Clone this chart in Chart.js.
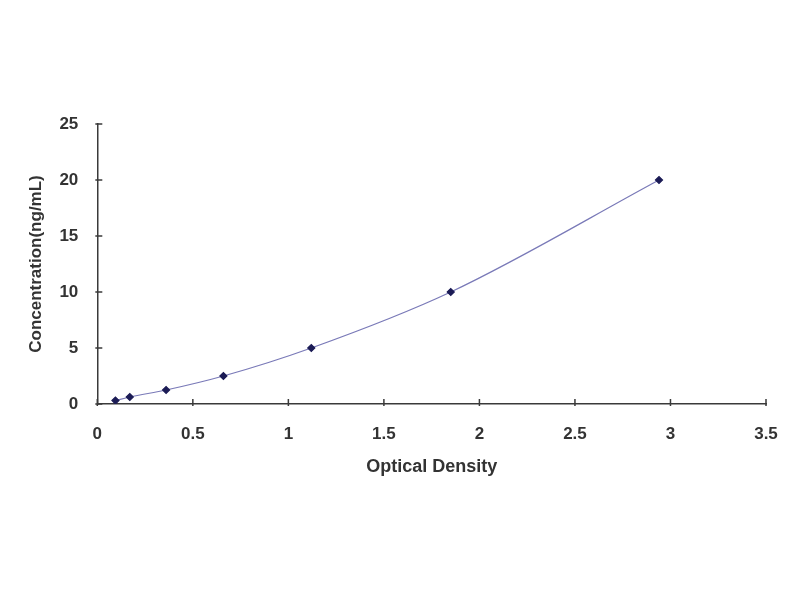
<!DOCTYPE html>
<html>
<head>
<meta charset="utf-8">
<script src="https://cdn.jsdelivr.net/npm/chart.js@4/dist/chart.umd.min.js"></script>
<style>
  html, body { margin: 0; padding: 0; background: #fff; }
  #wrap { width: 800px; height: 600px; }
</style>
</head>
<body>
<div id="wrap"><canvas id="curve" width="800" height="600"></canvas></div>
<script>
// standard curve: optical density vs concentration
const opticalDensity = [0.095, 0.17, 0.36, 0.66, 1.12, 1.85, 2.94];
const concentration = [0.312, 0.625, 1.25, 2.5, 5, 10, 20];
const xTicks = [0, 0.5, 1, 1.5, 2, 2.5, 3, 3.5];
const yTicks = [0, 5, 10, 15, 20, 25];

const axisColor = '#3a3a3a';
const textColor = '#333';
const font = { family: '"Liberation Sans", Arial, sans-serif', weight: 'bold', size: 17 };

// small tick marks drawn inward from each axis line
const innerTicks = {
  id: 'innerTicks',
  afterDraw(chart) {
    const { ctx, scales: { x, y } } = chart;
    ctx.save();
    ctx.strokeStyle = axisColor;
    ctx.lineWidth = 1.5;
    ctx.beginPath();
    xTicks.forEach(v => {
      const px = x.getPixelForValue(v);
      ctx.moveTo(px, y.bottom + 2);
      ctx.lineTo(px, y.bottom - 5);
    });
    yTicks.forEach(v => {
      const py = y.getPixelForValue(v);
      ctx.moveTo(x.left - 2, py);
      ctx.lineTo(x.left + 5, py);
    });
    ctx.stroke();
    ctx.restore();
  },
};

new Chart(document.getElementById('curve'), {
  type: 'scatter',
  data: {
    datasets: [{
      data: opticalDensity.map((od, i) => ({ x: od, y: concentration[i] })),
      showLine: true,
      borderColor: '#7a7ab8',
      borderWidth: 1.2,
      tension: 0.4,
      cubicInterpolationMode: 'monotone',
      pointStyle: 'rectRot',
      pointRadius: 3.5,
      pointBackgroundColor: '#1b1b55',
      pointBorderColor: '#1b1b55',
    }],
  },
  plugins: [innerTicks],
  options: {
    responsive: false,
    animation: false,
    layout: { padding: { left: 22, right: 34, top: 124, bottom: 118 } },
    plugins: { legend: { display: false }, tooltip: { enabled: false } },
    scales: {
      x: {
        type: 'linear',
        min: 0,
        max: 3.5,
        afterBuildTicks: axis => { axis.ticks = xTicks.map(v => ({ value: v })); },
        border: { display: true, color: axisColor, width: 1.5 },
        grid: { display: false },
        ticks: { color: textColor, font, padding: 12, callback: v => String(v) },
        title: { display: true, text: 'Optical Density', color: textColor, font: { ...font, size: 18 }, padding: { top: 0 } },
      },
      y: {
        type: 'linear',
        min: 0,
        max: 25,
        afterBuildTicks: axis => { axis.ticks = yTicks.map(v => ({ value: v })); },
        border: { display: true, color: axisColor, width: 1.5 },
        grid: { display: false },
        ticks: { color: textColor, font, padding: 11, callback: v => String(v) },
        title: { display: true, text: 'Concentration(ng/mL)', color: textColor, font: { ...font, size: 17 }, padding: { bottom: 2 } },
      },
    },
  },
});
</script>
</body>
</html>
